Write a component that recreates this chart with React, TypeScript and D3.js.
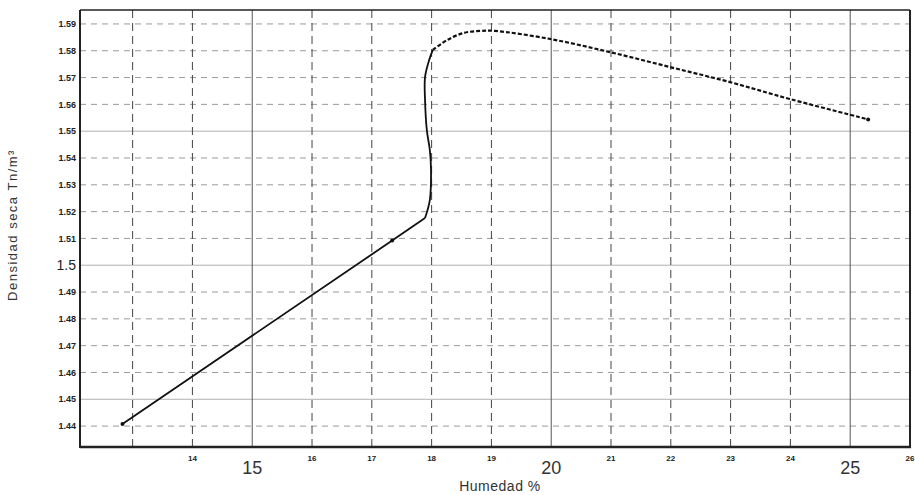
import React from "react";
import * as d3 from "d3";

const W = 915;
const H = 495;

// Curve (Humedad %, Densidad seca)
const humedad = [12.83, 17.34, 17.89, 17.97, 17.99, 17.97, 17.92, 17.89, 17.89, 17.96, 18.02, 18.26, 18.53, 18.81, 19.06, 19.98, 20.98, 21.99, 22.99, 23.99, 25.3];
const densidad = [1.4408, 1.5092, 1.5176, 1.5243, 1.5355, 1.543, 1.5504, 1.5616, 1.5702, 1.5766, 1.5803, 1.584, 1.5866, 1.5874, 1.5874, 1.5844, 1.5795, 1.5739, 1.5683, 1.562, 1.5544];
const markerIdx = [0, 1, 20];

const xTicks = [13, 14, 15, 16, 17, 18, 19, 20, 21, 22, 23, 24, 25, 26];
const xTickLabels = ["", "14", "15", "16", "17", "18", "19", "20", "21", "22", "23", "24", "25", "26"];
const xMajor = [15, 20, 25];

const yTicks = [1.44, 1.45, 1.46, 1.47, 1.48, 1.49, 1.5, 1.51, 1.52, 1.53, 1.54, 1.55, 1.56, 1.57, 1.58, 1.59];
const yTickLabels = ["1.44", "1.45", "1.46", "1.47", "1.48", "1.49", "1.5", "1.51", "1.52", "1.53", "1.54", "1.55", "1.56", "1.57", "1.58", "1.59"];
const yMajor = [1.45, 1.5, 1.55];

const margin = { left: 80, right: 5, top: 10, bottom: 48 };

export default function App() {
  const x = d3.scaleLinear().domain([12.12, 26]).range([margin.left, W - margin.right]);
  const y = d3.scaleLinear().domain([1.4322, 1.5952]).range([H - margin.bottom, margin.top]);
  const pts: [number, number][] = humedad.map((h, i) => [h, densidad[i]]);
  const straight = d3
    .line<[number, number]>()
    .x((d) => x(d[0]))
    .y((d) => y(d[1]));
  const smooth = d3
    .line<[number, number]>()
    .x((d) => x(d[0]))
    .y((d) => y(d[1]))
    .curve(d3.curveCatmullRom.alpha(0.5));
  const straightPts = pts.slice(0, 3);
  const solidPts = pts.slice(2, 11);
  const dashedPts = pts.slice(10);
  const x0 = margin.left;
  const x1 = W - margin.right;
  const y0 = H - margin.bottom;
  const y1 = margin.top;
  const isMajor = (arr: number[], v: number) => arr.some((m) => Math.abs(m - v) < 1e-6);
  const font = "Arial, 'Liberation Sans', sans-serif";

  return (
    <svg width={W} height={H} style={{ position: "absolute", left: 0, top: 0, background: "#fff" }} fontFamily={font}>
      {/* horizontal grid */}
      {yTicks.map((v) => (
        <line
          key={"hy" + v}
          x1={x0}
          x2={x1}
          y1={y(v)}
          y2={y(v)}
          stroke={isMajor(yMajor, v) ? "#b0b0b0" : "#9a9a9a"}
          strokeWidth={1}
          strokeDasharray={isMajor(yMajor, v) ? undefined : "6,5"}
        />
      ))}
      {/* vertical grid */}
      {xTicks.map((v) => (
        <line
          key={"vx" + v}
          x1={x(v)}
          x2={x(v)}
          y1={y1}
          y2={y0}
          stroke={isMajor(xMajor, v) ? "#555" : "#444"}
          strokeWidth={1}
          strokeDasharray={isMajor(xMajor, v) ? undefined : "8,5"}
        />
      ))}
      {/* frame */}
      <line x1={x0} x2={x1} y1={y1} y2={y1} stroke="#222" strokeWidth={1.5} />
      <line x1={x1} x2={x1} y1={y1} y2={y0} stroke="#222" strokeWidth={2} />
      <line x1={x0} x2={x0} y1={y1} y2={y0 + 1} stroke="#222" strokeWidth={2} />
      <line x1={x0} x2={x1 + 1} y1={y0} y2={y0} stroke="#222" strokeWidth={2.5} />
      {/* curve */}
      <path d={straight(straightPts) || ""} fill="none" stroke="#111" strokeWidth={1.8} />
      <path d={smooth(solidPts) || ""} fill="none" stroke="#111" strokeWidth={1.8} />
      <path d={smooth(dashedPts) || ""} fill="none" stroke="#111" strokeWidth={2.2} strokeDasharray="4,2" />
      {markerIdx.map((i) => (
        <circle key={"m" + i} cx={x(humedad[i])} cy={y(densidad[i])} r={2} fill="#111" />
      ))}
      {/* y tick labels */}
      {yTicks.map((v, i) => {
        const big = yTickLabels[i] === "1.5";
        return (
          <text
            key={"yl" + v}
            x={x0 - 4}
            y={y(v)}
            dy="0.35em"
            textAnchor="end"
            fontSize={big ? 14 : 9}
            fontWeight={big ? "normal" : "bold"}
            fill="#222"
          >
            {yTickLabels[i]}
          </text>
        );
      })}
      {/* x tick labels */}
      {xTicks.map((v, i) => {
        const big = isMajor(xMajor, v);
        return (
          <text
            key={"xl" + v}
            x={x(v)}
            y={big ? y0 + 27 : y0 + 14}
            textAnchor="middle"
            fontSize={big ? 18 : 8}
            fontWeight={big ? "normal" : "bold"}
            fill={big ? "#333" : "#222"}
          >
            {xTickLabels[i]}
          </text>
        );
      })}
      {/* axis titles */}
      <text x={500} y={491} textAnchor="middle" fontSize={14} letterSpacing={0.5} fill="#333">
        Humedad %
      </text>
      <text
        transform={`translate(17, 225) rotate(-90)`}
        textAnchor="middle"
        fontSize={13}
        letterSpacing={1.5}
        fill="#333"
      >
        Densidad seca Tn/m³
      </text>
    </svg>
  );
}
